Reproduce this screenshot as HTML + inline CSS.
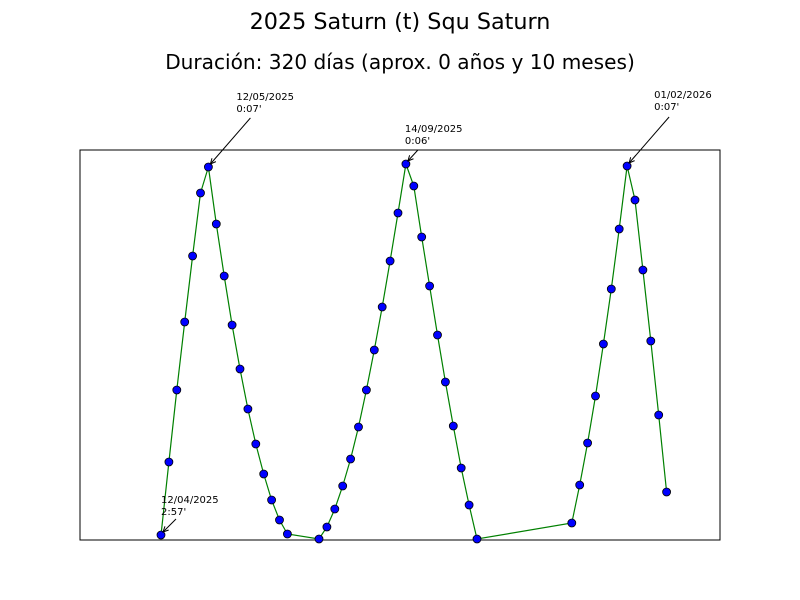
<!DOCTYPE html>
<html><head><meta charset="utf-8"><style>
body{margin:0;background:#fff}
svg{display:block;font-family:"DejaVu Sans","Liberation Sans",sans-serif}
</style></head><body>
<svg id="c" width="800" height="600">
<rect width="800" height="600" fill="#fff"/>
<text x="400" y="29" font-size="22.3" text-anchor="middle">2025 Saturn (t) Squ Saturn</text>
<text x="400" y="69" font-size="20.1" text-anchor="middle">Duración: 320 días (aprox. 0 años y 10 meses)</text>
<rect x="80" y="150" width="640" height="390" fill="none" stroke="#000" stroke-width="1"/>
<g id="marks"></g>
<g id="ann"></g>
</svg>
<script>
const days = [0,4,8,12,16,20,24,28,32,36,40,44,48,52,56,60,64,80,84,88,92,96,100,104,108,112,116,120,124,128,132,136,140,144,148,152,156,160,208,212,216,220,224,228,232,236,240,244,248,252,256];
const values = [5,78,150,218,284,347,373,316,264,215,171,131,96,66,40,20,6,1,13,31,54,81,113,150,190,233,279,327,376,354,303,254,205,158,114,72,35,1,17,55,97,144,196,251,311,374,340,270,199,125,48];
const annLabels = ["12/04/2025\n2:57'","12/05/2025\n0:07'","14/09/2025\n0:06'","01/02/2026\n0:07'"];
const annIdx = [0,6,28,45];
const labelOff = [[0,-32],[28,-67],[-1,-32],[27,-68]];
const arrowOff = [[15,-16],[42,-49],[12,-14],[42,-49]];

const xScale = d => 161 + d*1.975;
const yScale = v => 540 - v;
const ns = "http://www.w3.org/2000/svg";
const g = document.getElementById('marks');
const line = document.createElementNS(ns,'polyline');
line.setAttribute('points', days.map((d,i)=>xScale(d)+','+yScale(values[i])).join(' '));
line.setAttribute('fill','none');
line.setAttribute('stroke','#008000');
line.setAttribute('stroke-width','1.2');


g.appendChild(line);
days.forEach((d,i)=>{
  const c = document.createElementNS(ns,'circle');
  c.setAttribute('cx', xScale(d));
  c.setAttribute('cy', yScale(values[i]));
  c.setAttribute('r', 4);
  c.setAttribute('fill', '#0000ff');
  c.setAttribute('stroke', '#000');
  c.setAttribute('stroke-width', '0.8');
  
  
  g.appendChild(c);
});
const a = document.getElementById('ann');
annIdx.forEach((idx,k)=>{
  const px = xScale(days[idx]), py = yScale(values[idx]);
  const sx = px + arrowOff[k][0], sy = py + arrowOff[k][1];
  const hx = px + 2, hy = py - 3;
  const ln = document.createElementNS(ns,'line');
  ln.setAttribute('x1', sx); ln.setAttribute('y1', sy);
  ln.setAttribute('x2', hx); ln.setAttribute('y2', hy);
  ln.setAttribute('stroke','#000');
  
  
  a.appendChild(ln);
  const hd = document.createElementNS(ns,'path');
  const ang = Math.atan2(hy-sy, hx-sx), L=6;
  hd.setAttribute('d', `M${hx-L*Math.cos(ang-0.45)},${hy-L*Math.sin(ang-0.45)} L${hx},${hy} L${hx-L*Math.cos(ang+0.45)},${hy-L*Math.sin(ang+0.45)}`);
  hd.setAttribute('fill','none'); hd.setAttribute('stroke','#000');
  
  
  a.appendChild(hd);
  const parts = annLabels[k].split('\n');
  parts.forEach((p,j)=>{
    const t = document.createElementNS(ns,'text');
    t.setAttribute('x', px + labelOff[k][0]);
    t.setAttribute('y', py + labelOff[k][1] + j*12);
    t.setAttribute('font-size','10');
    t.textContent = p;
    
    
    a.appendChild(t);
  });
});
</script>
</body></html>
